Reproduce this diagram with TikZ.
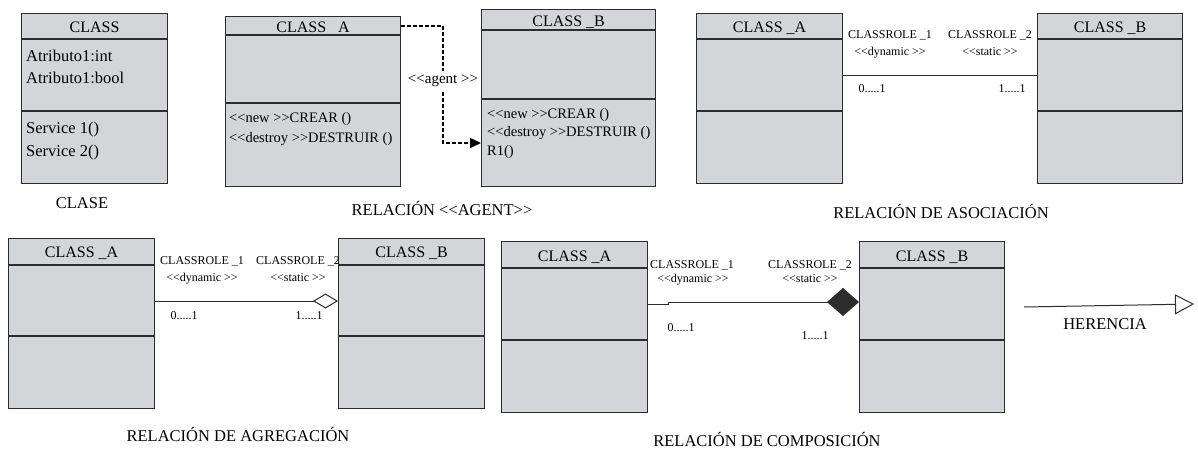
\documentclass[tikz,border=0pt]{standalone}
\usepackage{fontspec}
\setmainfont{Liberation Serif}
\usetikzlibrary{positioning, calc, arrows.meta}
\definecolor{classgray}{RGB}{212,213,217}
\definecolor{umlline}{RGB}{45,45,45}
\newcommand{\stopen}{<\kern0pt<}
\newcommand{\stclose}{>\kern0pt>}

\begin{document}
\begin{tikzpicture}[x=1pt, y=-1pt]

% Styles for boxes and labels
\tikzstyle{classbox} = [rectangle, draw=umlline, line width=1.2pt, fill=classgray, anchor=north west, inner sep=0pt]
\tikzstyle{sep} = [draw=umlline, line width=1.2pt]
\tikzstyle{title} = [font=\fontsize{16}{18}\selectfont, inner sep=0pt, anchor=base]
\tikzstyle{body} = [font=\fontsize{16.5}{18}\selectfont, inner sep=0pt, anchor=base west]
\tikzstyle{ops} = [font=\fontsize{14.5}{17}\selectfont, inner sep=0pt, anchor=base west]
\tikzstyle{caption} = [font=\fontsize{16.5}{18}\selectfont, inner sep=0pt, anchor=base]
\tikzstyle{role} = [font=\fontsize{12}{14}\selectfont, inner sep=0pt, anchor=base]
\tikzstyle{stereo} = [font=\fontsize{12}{14}\selectfont, inner sep=0pt, anchor=base]
\tikzstyle{assoc} = [draw=umlline, line width=1pt]

\useasboundingbox (0,0) rectangle (1198,450);

% Class boxes
\node [classbox, minimum width=146pt, minimum height=170pt] (clase) at (21,13) {};
\node [classbox, minimum width=175pt, minimum height=170pt] (agA) at (225,16) {};
\node [classbox, minimum width=174pt, minimum height=177pt] (agB) at (481,9) {};
\node [classbox, minimum width=146pt, minimum height=170pt] (asA) at (696,13) {};
\node [classbox, minimum width=145pt, minimum height=170pt] (asB) at (1037,13) {};
\node [classbox, minimum width=146pt, minimum height=170pt] (grA) at (8,238) {};
\node [classbox, minimum width=146pt, minimum height=170pt] (grB) at (338,238) {};
\node [classbox, minimum width=146pt, minimum height=171pt] (coA) at (501,241) {};
\node [classbox, minimum width=145pt, minimum height=171pt] (coB) at (859,241) {};

% Compartment lines
\foreach \cls/\hd/\md in {clase/26/98, agA/19/87, agB/21/90, asA/26/98, asB/26/98,
                          grA/27/98, grB/27/98, coA/27/99, coB/27/99} {
  \draw [sep] ([yshift=-\hd pt]\cls.north west) -- ([yshift=-\hd pt]\cls.north east);
  \draw [sep] ([yshift=-\md pt]\cls.north west) -- ([yshift=-\md pt]\cls.north east);
}

% Titles
\node [title] (claset) at ([yshift=-19pt]clase.north) {CLASS};
\node [title] (agAt) at ([yshift=-16pt]agA.north) {CLASS\ \ \ A};
\node [title] (agBt) at ([yshift=-17pt]agB.north) {CLASS \_B};
\node [title] (asAt) at ([yshift=-19pt]asA.north) {CLASS \_A};
\node [title] (asBt) at ([yshift=-19pt]asB.north) {CLASS \_B};
\node [title] (grAt) at ([yshift=-19pt]grA.north) {CLASS \_A};
\node [title] (grBt) at ([yshift=-19pt]grB.north) {CLASS \_B};
\node [title] (coAt) at ([yshift=-20pt]coA.north) {CLASS \_A};
\node [title] (coBt) at ([yshift=-20pt]coB.north) {CLASS \_B};

% Attributes and services
\node [body] (attr1) at (26,61) {Atributo1:int};
\node [body] (attr2) at (26,83) {Atributo1:bool};
\node [body] (serv1) at (26,133) {Service 1()};
\node [body] (serv2) at (26,156) {Service 2()};
\node [ops] (agAop1) at (229,122) {\stopen new \stclose CREAR ()};
\node [ops] (agAop2) at (229,142) {\stopen destroy \stclose DESTRUIR ()};
\node [ops] (agBop1) at (487,118) {\stopen new \stclose CREAR ()};
\node [ops] (agBop2) at (487,136) {\stopen destroy \stclose DESTRUIR ()};
\node [ops] (agBop3) at (487,155) {R1()};

% Agent relation
\coordinate (agsrc) at ([yshift=-10pt]agA.north east);
\draw [line width=1.5pt, dash pattern=on 4pt off 2pt, -{Triangle[length=11pt, width=10pt]}]
  (agsrc) -| (443,80) |- (agB.west |- 0,143);
\node [fill=white, inner xsep=3pt, inner ysep=4pt, font=\fontsize{15}{17}\selectfont] (agentl) at (443,81) {\stopen agent \stclose};

% Association
\draw [assoc] (asA.east |- 0,75) -- (asB.west |- 0,75);
\node [role] (asr1) at (890,38) {CLASSROLE \_1};
\node [stereo] (ass1) at (890,55) {\stopen dynamic \stclose};
\node [role] (asr2) at (990,38) {CLASSROLE \_2};
\node [stereo] (ass2) at (990,55) {\stopen static \stclose};
\node [role] (asm1) at (872,92) {0.....1};
\node [role] (asm2) at (1012,92) {1.....1};

% Aggregation
\draw [assoc, -{Diamond[open, length=25pt, width=15pt]}] (grA.east |- 0,301) -- (grB.west |- 0,301);
\node [role] (grr1) at (202,264) {CLASSROLE \_1};
\node [stereo] (grs1) at (202,281) {\stopen dynamic \stclose};
\node [role] (grr2) at (298,264) {CLASSROLE \_2};
\node [stereo] (grs2) at (298,281) {\stopen static \stclose};
\node [role] (grm1) at (184,319) {0.....1};
\node [role] (grm2) at (309,319) {1.....1};

% Composition
\draw [assoc, -{Diamond[length=32pt, width=28pt]}] (coA.east |- 0,304) -- (668,304) -- (668,302) -- (coB.west |- 0,302);
\node [role] (cor1) at (692,268) {CLASSROLE \_1};
\node [stereo] (cos1) at (693,282) {\stopen dynamic \stclose};
\node [role] (cor2) at (810,268) {CLASSROLE \_2};
\node [stereo] (cos2) at (810,282) {\stopen static \stclose};
\node [role] (com1) at (681,331) {0.....1};
\node [role] (com2) at (815,339) {1.....1};

% Inheritance
\coordinate (hstart) at (1024,307);
\coordinate (hend) at (1194,304);
\draw [assoc, -{Triangle[open, length=19pt, width=20pt]}] (hstart) -- (hend);
\node [caption] (herencia) at (1105,329) {HERENCIA};

% Captions
\node [caption] (capclase) at (82,208) {CLASE};
\node [caption] (capagent) at (442,215) {RELACIÓN \stopen AGENT\stclose};
\node [caption] (capasoc) at (941,218) {RELACIÓN DE ASOCIACIÓN};
\node [caption] (capagreg) at (238,441) {RELACIÓN DE AGREGACIÓN};
\node [caption] (capcomp) at (767,446) {RELACIÓN DE COMPOSICIÓN};

\end{tikzpicture}
\end{document}
